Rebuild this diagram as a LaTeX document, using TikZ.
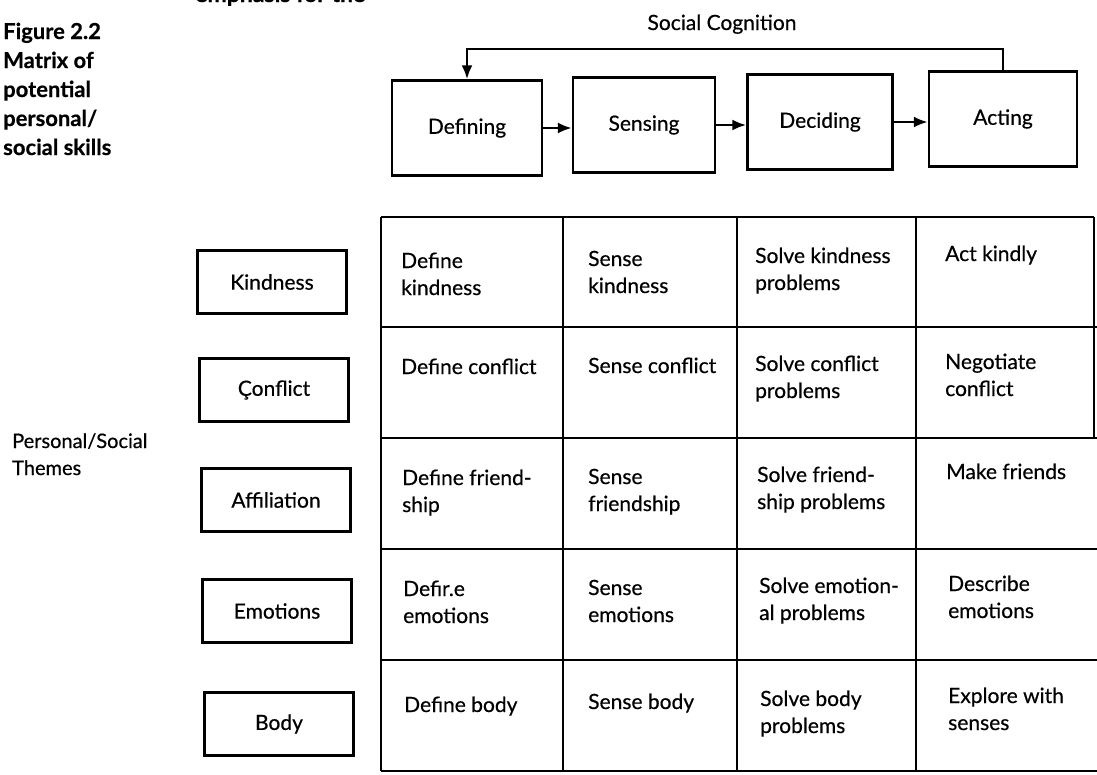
\documentclass[tikz,border=0pt]{standalone}
\usepackage{fontspec}
\setmainfont{Lato}[FakeBold=0.5]
\usetikzlibrary{arrows.meta}
\begin{document}
\begin{tikzpicture}[x=1pt,y=-1pt,
  every node/.style={font=\fontsize{21}{27}\selectfont},
  stagebox/.style={draw,line width=2.4pt,minimum height=95pt,inner sep=0pt},
  themebox/.style={draw,line width=2.2pt,minimum width=149pt,minimum height=63pt,inner sep=0pt},
  celltext/.style={anchor=base west,align=left,inner sep=0pt},
  flow/.style={line width=2.6pt,-{Latex[length=14pt,width=11pt]}},
  gridline/.style={line width=2.3pt}]
\useasboundingbox (0,0) rectangle (1097,774);
% running text cut off at the top of the page
\node[anchor=base west,inner sep=0pt,font=\fontsize{23}{29}\selectfont\bfseries] (runhead) at (195,2) {emphasis for the};
% caption
\node[anchor=base west,align=left,inner sep=0pt,font=\fontsize{22}{29}\selectfont\bfseries] (caption) at (3,155)
  {Figure 2.2\\Matrix of\\potential\\personal/\\social skills};
% social cognition
\node[anchor=base,inner sep=0pt] (sctitle) at (722,30) {Social Cognition};
\node[stagebox,minimum width=150pt] (defining) at (467,128) {Defining};
\node[stagebox,minimum width=142pt] (sensing) at (644,125) {Sensing};
\node[stagebox,minimum width=145pt] (deciding) at (820,122) {Deciding};
\node[stagebox,minimum width=148pt] (acting) at (1003,119) {Acting};
\draw[flow] (defining.east) -- (sensing.west |- defining.east);
\draw[flow] (sensing.east) -- (deciding.west |- sensing.east);
\draw[flow] (deciding.east) -- (acting.west |- deciding.east);
\coordinate (fbR) at (1003,49);
\coordinate (fbL) at (467,49);
\draw[flow] (acting.north) -- (fbR) -- (fbL) -- (defining.north);
% themes
\node[anchor=base west,align=left,inner sep=0pt,font=\fontsize{20}{27}\selectfont] (themes) at (12,475) {Personal/Social\\Themes};
\node[themebox] (kind) at (272,282) {Kindness};
\node[themebox] (conf) at (274,390) {Çonflict};
\node[themebox] (affi) at (276,500) {Affiliation};
\node[themebox] (emot) at (277,611) {Emotions};
\node[themebox] (body) at (279,724) {Body};
% grid
\draw[gridline] (381,217) -- (1094,217);
\foreach \yy in {327,438,549,660} \draw[gridline] (381,\yy) -- (1097,\yy);
\draw[gridline] (381,771) -- (1097,771);
\draw[gridline] (381,217) -- (381,771);
\foreach \xx in {563,737,916} \draw[gridline] (\xx,217) -- (\xx,771);
\draw[gridline] (1094,217) -- (1094,438);
% cells (base = last line)
\node[celltext] (c11) at (401,295) {Define\\kindness};
\node[celltext] (c12) at (588,293) {Sense\\kindness};
\node[celltext] (c13) at (755,290) {Solve kindness\\problems};
\node[celltext] (c14) at (945,261) {Act kindly};
\node[celltext] (c21) at (401,374) {Define conflict};
\node[celltext] (c22) at (588,373) {Sense conflict};
\node[celltext] (c23) at (755,398) {Solve conflict\\problems};
\node[celltext] (c24) at (945,396) {Negotiate\\conflict};
\node[celltext] (c31) at (402,512) {Define friend-\\ship};
\node[celltext] (c32) at (588,511) {Sense\\friendship};
\node[celltext] (c33) at (757,509) {Solve friend-\\ship problems};
\node[celltext] (c34) at (946,479) {Make friends};
\node[celltext] (c41) at (403,623) {Defir.e\\emotions};
\node[celltext] (c42) at (588,622) {Sense\\emotions};
\node[celltext] (c43) at (759,620) {Solve emotion-\\al problems};
\node[celltext] (c44) at (948,618) {Describe\\emotions};
\node[celltext] (c51) at (404,712) {Define body};
\node[celltext] (c52) at (588,709) {Sense body};
\node[celltext] (c53) at (760,733) {Solve body\\problems};
\node[celltext] (c54) at (948,730) {Explore with\\senses};
\end{tikzpicture}
\end{document}
